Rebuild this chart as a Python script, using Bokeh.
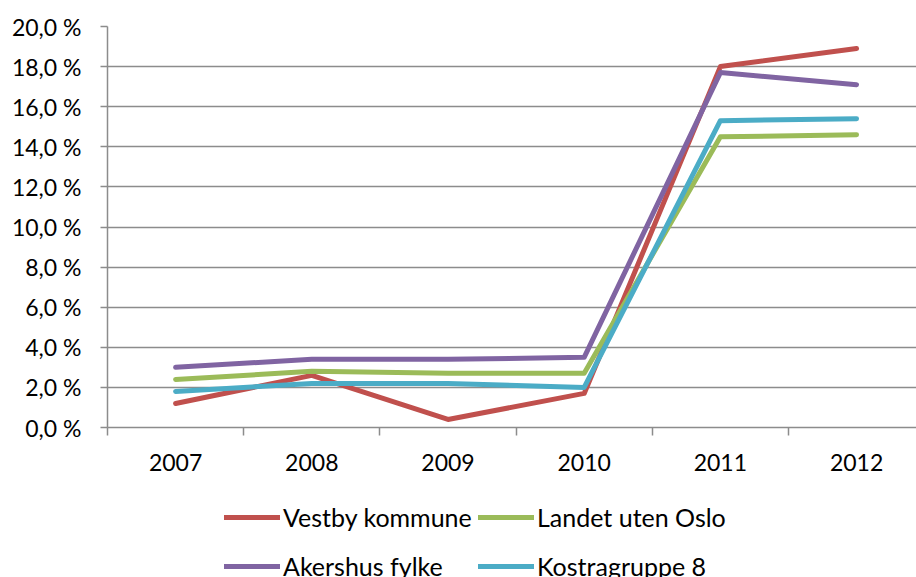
from bokeh.plotting import figure
from bokeh.layouts import column
from bokeh.models import (Range1d, FixedTicker, SingleIntervalTicker, CustomJSTickFormatter,
                          Legend, LegendItem)
from bokeh.embed import file_html
from bokeh.resources import INLINE

years = ["2007", "2008", "2009", "2010", "2011", "2012"]
vestby = [1.2, 2.6, 0.4, 1.7, 18.0, 18.9]
landet = [2.4, 2.8, 2.7, 2.7, 14.5, 14.6]
akershus = [3.0, 3.4, 3.4, 3.5, 17.7, 17.1]
kostra = [1.8, 2.2, 2.2, 2.0, 15.3, 15.4]

series_names = ["Vestby kommune", "Landet uten Oslo", "Akershus fylke", "Kostragruppe 8"]
series_colors = ["#C0504D", "#9BBB59", "#8064A2", "#4BACC6"]
series_values = [vestby, landet, akershus, kostra]

FONT = "Lato"
GRAY = "#8C8C8C"
MAIN_H = 481
LEG_H = 96

xs = [i + 0.5 for i in range(len(years))]

p = figure(width=916, height=MAIN_H, output_backend="svg", toolbar_location=None,
           x_range=Range1d(0, 5.94), y_range=Range1d(0, 20),
           min_border_left=107, min_border_right=0, min_border_top=26, min_border_bottom=54)
p.outline_line_color = None

for vals, col in zip(series_values, series_colors):
    p.line(xs, vals, line_color=col, line_width=5, line_cap="round", line_join="round")

# x axis
p.xaxis.ticker = FixedTicker(ticks=xs, minor_ticks=list(range(len(years) + 1)))
p.xaxis.formatter = CustomJSTickFormatter(args=dict(labels=years),
                                          code="return labels[Math.round(tick - 0.5)];")
p.xaxis.major_tick_out = 0
p.xaxis.major_tick_in = 0
p.xaxis.minor_tick_out = 8
p.xaxis.minor_tick_in = 0
p.xaxis.minor_tick_line_color = GRAY
p.xaxis.minor_tick_line_width = 1.5
p.xaxis.axis_line_color = GRAY
p.xaxis.axis_line_width = 1.5
p.xaxis.major_label_text_font = FONT
p.xaxis.major_label_text_font_size = "23px"
p.xaxis.major_label_text_color = "black"
p.xaxis.major_label_standoff = 18

# y axis
p.yaxis.ticker = SingleIntervalTicker(interval=2, num_minor_ticks=0)
p.yaxis.formatter = CustomJSTickFormatter(code="return tick.toFixed(1).replace('.', ',') + ' %';")
p.yaxis.major_tick_out = 7
p.yaxis.major_tick_in = 0
p.yaxis.minor_tick_out = 0
p.yaxis.minor_tick_in = 0
p.yaxis.major_tick_line_color = GRAY
p.yaxis.major_tick_line_width = 1.5
p.yaxis.axis_line_color = GRAY
p.yaxis.axis_line_width = 1.5
p.yaxis.major_label_text_font = FONT
p.yaxis.major_label_text_font_size = "23px"
p.yaxis.major_label_text_color = "black"
p.yaxis.major_label_standoff = 19

p.xgrid.grid_line_color = None
p.ygrid.grid_line_color = GRAY
p.ygrid.grid_line_width = 1.5

# legend figure (series drawn outside its visible range; only the legend shows)
lp = figure(width=916, height=LEG_H, output_backend="svg", toolbar_location=None,
            x_range=Range1d(0, 5.94), y_range=Range1d(-10, -9),
            min_border_left=0, min_border_right=0, min_border_top=0, min_border_bottom=0)
lp.axis.visible = False
lp.grid.visible = False
lp.outline_line_color = None
leg_renderers = []
for vals, col in zip(series_values, series_colors):
    leg_renderers.append(lp.line(xs, vals, line_color=col, line_width=5, line_cap="round"))

def make_legend(idx, loc):
    items = [LegendItem(label=series_names[i], renderers=[leg_renderers[i]]) for i in idx]
    return Legend(items=items, orientation="horizontal", location=loc,
                  glyph_width=56, glyph_height=20, label_standoff=3, label_width=190,
                  label_height=20, spacing=5, padding=0, margin=0,
                  border_line_color=None, background_fill_alpha=0,
                  label_text_font=FONT, label_text_font_size="25px",
                  label_text_color="black")

lp.add_layout(make_legend([0, 1], (117, 45)))
lp.add_layout(make_legend([2, 3], (117, -4)))

layout = column(p, lp, spacing=0)
open("out.html", "w").write(file_html(layout, INLINE))
